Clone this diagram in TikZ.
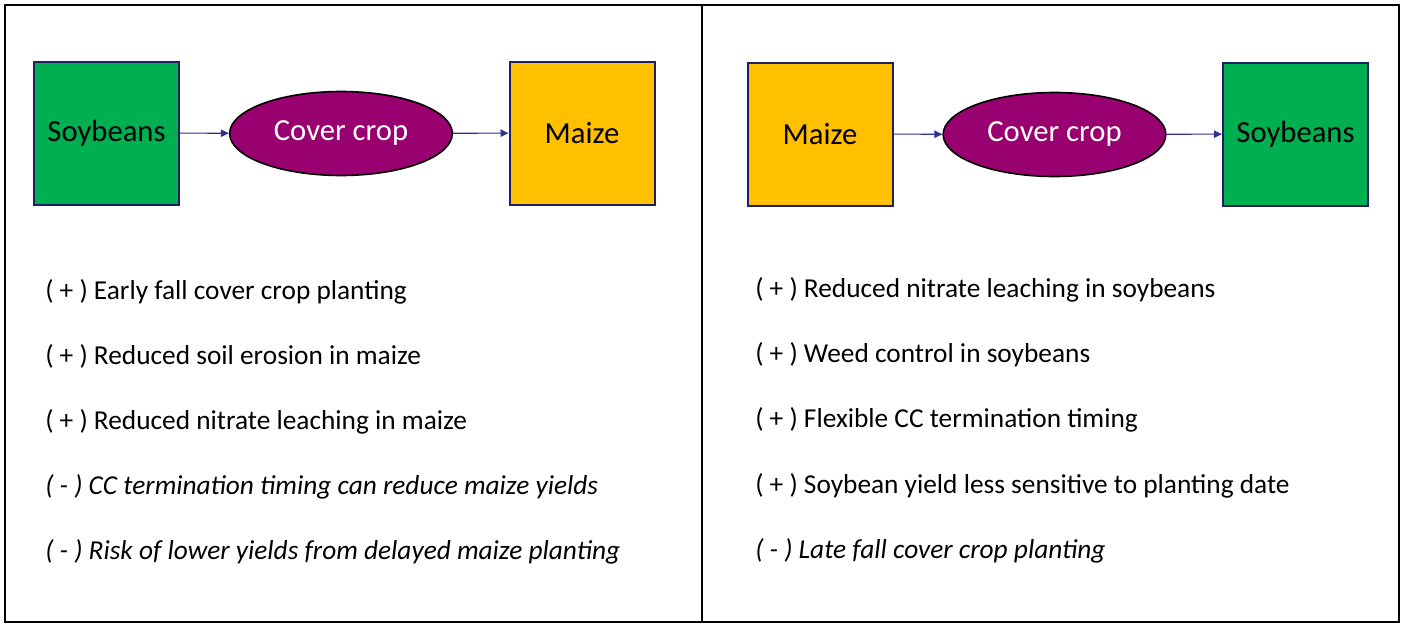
\documentclass[tikz,border=0pt]{standalone}
\usepackage{fontspec}
\setmainfont{Carlito}
\usepackage{tikz}
\usetikzlibrary{arrows.meta,shapes.geometric}
\definecolor{cropgreen}{HTML}{00B050}
\definecolor{cropyellow}{HTML}{FFC000}
\definecolor{ccpurple}{HTML}{990070}
\definecolor{edge}{HTML}{1F1F66}
\definecolor{arrowblue}{HTML}{2E3192}
\def\boxtxt{\fontsize{23}{27}\selectfont}
\def\listtxt{\fontsize{20.5}{24}\selectfont}

\begin{document}
\begin{tikzpicture}[x=0.75pt, y=-0.75pt,
  crop/.style={draw=edge, line width=1.5pt, minimum width=108.75pt, minimum height=107.25pt, inner sep=0pt, font=\boxtxt},
  cover/.style={ellipse, draw=black, line width=1.2pt, fill=ccpurple, text=white, minimum width=167pt, minimum height=63pt, inner sep=0pt, font=\boxtxt},
  link/.style={arrowblue, line width=0.8pt, -{Triangle[length=6pt, width=5.5pt]}},
  item/.style={anchor=base west, inner sep=0pt, font=\listtxt}]

\useasboundingbox (0,0) rectangle (1404,628);

% frame

\draw[line width=1.5pt] (5,5) rectangle (1399,622);
\draw[line width=1.5pt] (702,5) -- (702,622);

% left rotation

\node[crop, fill=cropgreen] (soyA) at (106.5,133) {Soybeans};
\node[cover] (ccA) at (341,133.5) {Cover crop};
\node[crop, fill=cropyellow] (maizeA) at (582,133) {Maize};

\draw[link] (soyA) -- (ccA);
\draw[link] (ccA) -- (maizeA);

% right rotation

\node[crop, fill=cropyellow] (maizeB) at (820,134) {Maize};
\node[cover] (ccB) at (1054.5,134.5) {Cover crop};
\node[crop, fill=cropgreen] (soyB) at (1295.5,134) {Soybeans};

\draw[link] (maizeB) -- (ccB);
\draw[link] (ccB) -- (soyB);

% left list

\node[item] (a1) at (45,299) {( + ) Early fall cover crop planting};
\node[item] (a2) at (45,364) {( + ) Reduced soil erosion in maize};
\node[item] (a3) at (45,429) {( + ) Reduced nitrate leaching in maize};
\node[item] (a4) at (45,494) {\itshape ( - ) CC termination timing can reduce maize yields};
\node[item] (a5) at (45,559) {\itshape ( - ) Risk of lower yields from delayed maize planting};

% right list

\node[item] (b1) at (755,297) {( + ) Reduced nitrate leaching in soybeans};
\node[item] (b2) at (755,362) {( + ) Weed control in soybeans};
\node[item] (b3) at (755,427) {( + ) Flexible CC termination timing};
\node[item] (b4) at (755,493) {( + ) Soybean yield less sensitive to planting date};
\node[item] (b5) at (755,558) {\itshape ( - ) Late fall cover crop planting};

\end{tikzpicture}
\end{document}
